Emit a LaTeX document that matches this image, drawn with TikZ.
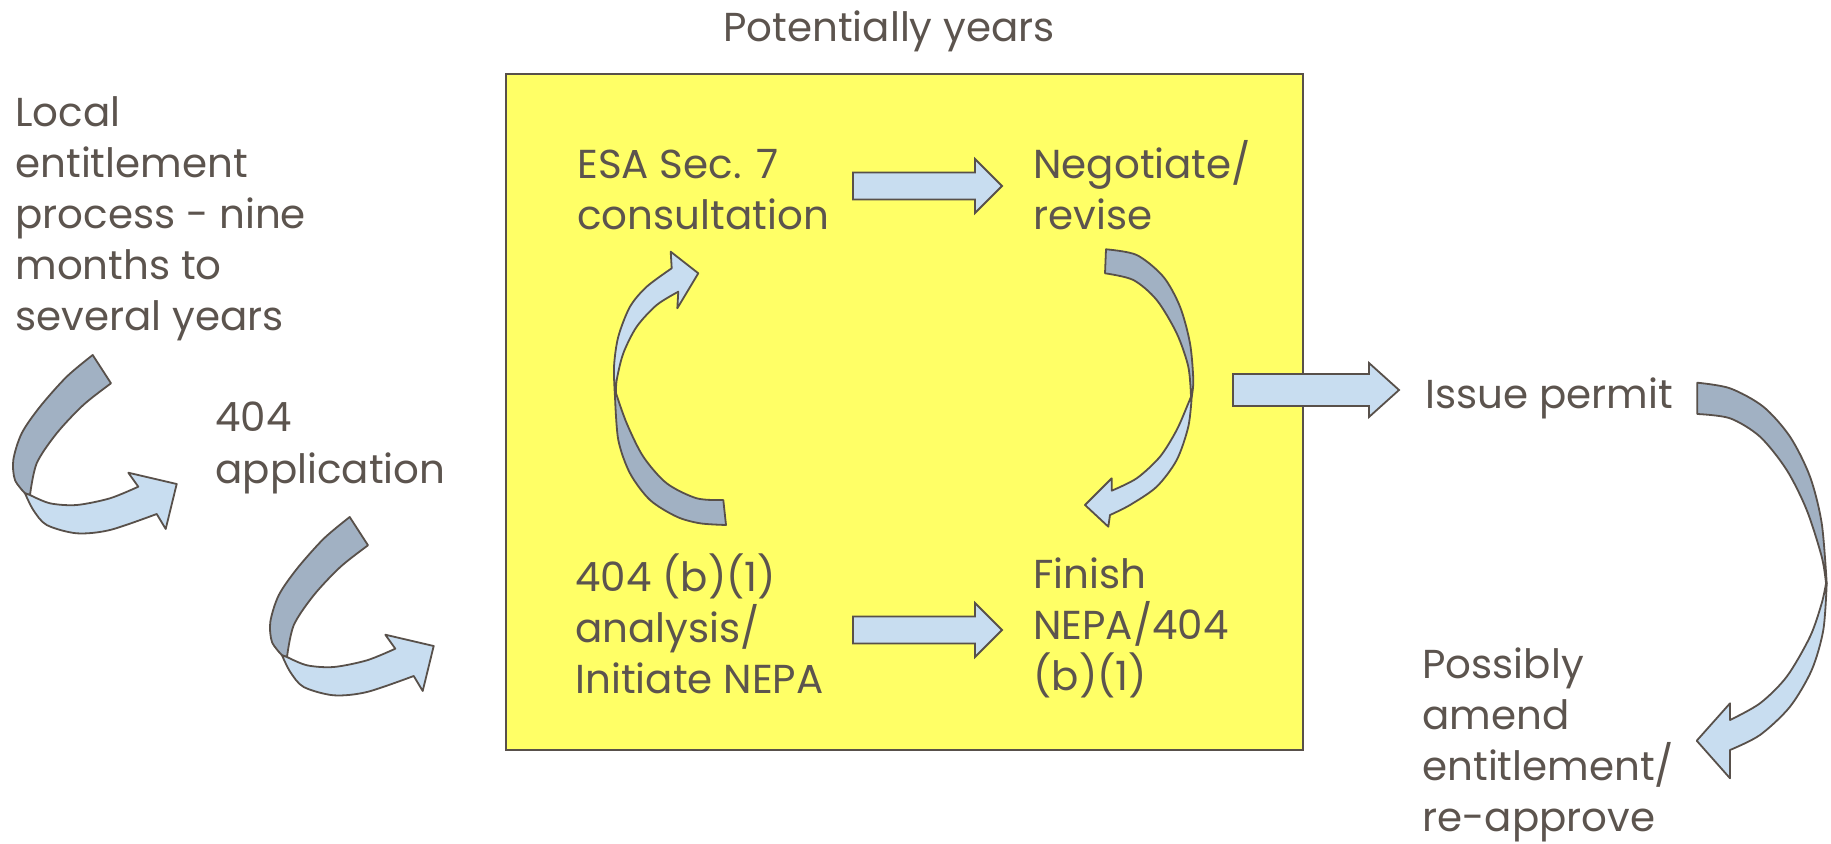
\documentclass[tikz,border=0pt]{standalone}
\usepackage{fontspec}
\setmainfont{Poppins}
\definecolor{txt}{RGB}{92,84,78}
\definecolor{edge}{RGB}{88,80,74}
\definecolor{bandback}{RGB}{161,177,195}
\definecolor{bandfront}{RGB}{200,221,240}
\definecolor{boxyellow}{RGB}{255,255,102}
\tikzset{
  lbl/.style={anchor=base west, align=left, text=txt, inner sep=0pt,
    font=\fontsize{20.2}{25.5}\selectfont},
  backband/.style={fill=bandback, draw=edge, line width=0.9pt, line join=round},
  frontband/.style={fill=bandfront, draw=edge, line width=0.9pt, line join=round},
  blockarrow/.style={fill=bandfront, draw=edge, line width=0.9pt},
}
\newcommand\blkarrow[6]{%
  \draw[blockarrow] (#1,#3-#4) -- (#2-#6,#3-#4) -- (#2-#6,#3-#5) -- (#2,#3)
    -- (#2-#6,#3+#5) -- (#2-#6,#3+#4) -- (#1,#3+#4) -- cycle;}
\newcommand\leftcurl{%
  \draw[backband] plot[smooth] coordinates {(92.7,355) (66.7,376.7) (40,406.7) (21.7,433.3) (13.3,460) (15,480) (25,493.3)}
    -- plot[smooth] coordinates {(30,495) (36.7,463.3) (56.7,433.3) (83.3,405) (111,383.3)} -- cycle;
  \draw[frontband] plot[smooth] coordinates {(25,493.3) (33.3,510) (46.7,525) (76.7,533.3) (110,530) (156.7,514)}
    -- (165.7,529) -- (176.7,484) -- (128.3,472.7)
    -- plot[smooth] coordinates {(138.3,486.7) (110,498.3) (76.7,505) (50,503.3) (30,495)} -- cycle;}
\begin{document}
\begin{tikzpicture}[x=0.5pt,y=-0.5pt]
\useasboundingbox (0,0) rectangle (1831,844);
% yellow box
\draw[fill=boxyellow, draw=edge, line width=0.9pt] (506,74) rectangle (1303,750);
\node[lbl, anchor=base] (pot) at (889,42) {Potentially years};
% texts (anchored at the baseline of the last line)
\node[lbl] (local) at (15,331) {Local\\entitlement\\process - nine\\months to\\several years};
\node[lbl] (app) at (215,483) {404\\application};
\node[lbl] (esa) at (577,230) {ESA Sec. 7\\consultation};
\node[lbl] (neg) at (1033,230) {Negotiate/\\revise};
\node[lbl] (ana) at (575,693) {404 (b)(1)\\analysis/\\Initiate NEPA};
\node[lbl] (fin) at (1033,690) {Finish\\NEPA/404\\(b)(1)};
\node[lbl] (iss) at (1425,409) {Issue permit};
\node[lbl] (pos) at (1422,831) {Possibly\\amend\\entitlement/\\re-approve};
% straight block arrows
\blkarrow{853}{1002}{186}{13.5}{27}{27}
\blkarrow{853}{1002}{630}{13.5}{27}{27}
\blkarrow{1233}{1399}{390}{16}{27}{30}
% left curls
\leftcurl
\begin{scope}[shift={(257,162)}]
\leftcurl
\end{scope}
% loop up (left inside box)
\draw[backband] plot[smooth] coordinates {(726,525) (700,523.3) (676.7,516.7) (650,500) (630,473.3) (618.3,440) (615,396.7)}
  -- plot[smooth] coordinates {(616,393.3) (626.7,423.3) (643.3,456.7) (666.7,483.3) (696.7,498.3) (723.3,500)} -- cycle;
\draw[frontband] plot[smooth] coordinates {(615,396.7) (614,366.7) (618.3,336.7) (630,306.7) (646.7,286.7) (671.7,268.3)}
  -- (670.7,251.7) -- (698.3,273.3) -- (677.3,308.3)
  -- plot[smooth] coordinates {(678.3,291.7) (656.7,305) (636.7,326.7) (623.3,353.3) (616.7,380) (616,393.3)} -- cycle;
% loop down (right inside box)
\draw[backband] plot[smooth] coordinates {(1106,249.3) (1136.7,255) (1163.3,276.7) (1180,306.7) (1190,343.3) (1193.3,380) (1191.7,396.7)}
  -- plot[smooth] coordinates {(1191,396.7) (1188.3,366.7) (1176.7,333.3) (1156.7,300) (1133.3,280) (1105,273.3)} -- cycle;
\draw[frontband] plot[smooth] coordinates {(1191.7,396.7) (1188.3,426.7) (1176.7,460) (1156.7,486.7) (1130,505) (1110,515)}
  -- (1108.3,526.7) -- (1085,505) -- (1111.7,478.3)
  -- plot[smooth] coordinates {(1111.7,490.7) (1136.7,478.3) (1160,456.7) (1176.7,430) (1188.3,403.3) (1191,396.7)} -- cycle;
% big right curl
\draw[backband] plot[smooth] coordinates {(1697.3,382.7) (1730,388.3) (1763.3,406.7) (1790,436.7) (1810,476.7) (1821.7,523.3) (1826.7,583.3)}
  -- plot[smooth] coordinates {(1826,583.3) (1821.7,556.7) (1806.7,510) (1786.7,470) (1760,436.7) (1730,418.3) (1697.3,414)} -- cycle;
\draw[frontband] plot[smooth] coordinates {(1826.7,583.3) (1823.3,630) (1811.7,670) (1790,706.7) (1760,735) (1730,750)}
  -- (1730,778.3) -- (1696.7,740.7) -- (1730,703.3)
  -- plot[smooth] coordinates {(1730,720) (1760,703.3) (1786.7,676.7) (1810,636.7) (1821.7,603.3) (1826,583.3)} -- cycle;
\end{tikzpicture}
\end{document}
